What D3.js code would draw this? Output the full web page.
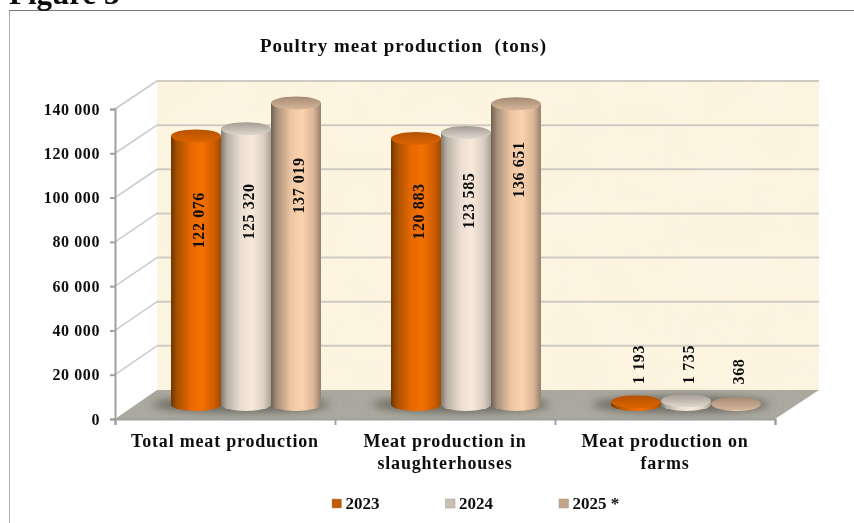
<!DOCTYPE html>
<html><head><meta charset="utf-8">
<script src="https://cdn.jsdelivr.net/npm/d3@7/dist/d3.min.js"></script>
<style>
html,body{margin:0;padding:0;background:#fff;overflow:hidden}
text{font-family:"Liberation Serif",serif;font-weight:bold;fill:#111}
</style></head><body><svg id="c" width="854" height="523"></svg>
<script>
const categories=[["Total meat production"],["Meat production in","slaughterhouses"],["Meat production on","farms"]];
const series=["2023","2024","2025 *"];
const values2023=[122076,120883,1193];
const values2024=[125320,123585,1735];
const values2025=[137019,136651,368];
const labelNudge2023=[9,-1.5,0];
const labelNudge2024=[5.5,-8,0];
const labelNudge2025=[-2,-18.5,7];
const yTicks=[0,20000,40000,60000,80000,100000,120000,140000];
const allValues=[values2023,values2024,values2025];
const nudges=[labelNudge2023,labelNudge2024,labelNudge2025];
const bodyStops=[
 [["0","#6e3404"],["0.12","#a85006"],["0.4","#e66800"],["0.62","#f57000"],["0.85","#d05e00"],["1","#a04c04"]],
 [["0","#7f7a72"],["0.12","#b8b0a6"],["0.4","#ecdfd2"],["0.62","#f6e8da"],["0.85","#dccfc2"],["1","#aaa296"]],
 [["0","#6f5f50"],["0.12","#a8907a"],["0.4","#eec6a4"],["0.62","#fbd2ae"],["0.85","#dcb696"],["1","#94806c"]]];
const capStops=[
 [["0","#b55200"],["1","#dd6400"]],
 [["0","#a39c92"],["1","#e0d8ce"]],
 [["0","#a58a72"],["1","#d6b79c"]]];
const legendFill=["#c25a06","#c9c0b4","#c2a488"];

const svg=d3.select("#c"),defs=svg.append("defs");
const root=svg.append("g").attr("filter","url(#soft)");
defs.append("filter").attr("id","soft").attr("x",0).attr("y",0).attr("width",1).attr("height",1)
  .append("feGaussianBlur").attr("stdDeviation",0.35);
const blur=defs.append("filter").attr("id","shadow").attr("x","-20%").attr("y","-100%").attr("width","140%").attr("height","300%");
blur.append("feGaussianBlur").attr("stdDeviation",4);
function grain(id,freq,tone,amt){
  const f=defs.append("filter").attr("id",id).attr("x",0).attr("y",0).attr("width",1).attr("height",1);
  f.append("feTurbulence").attr("type","fractalNoise").attr("baseFrequency",freq).attr("numOctaves",3).attr("seed",4).attr("result","n");
  f.append("feColorMatrix").attr("in","n").attr("type","matrix")
   .attr("values",`0 0 0 0 ${tone[0]} 0 0 0 0 ${tone[1]} 0 0 0 0 ${tone[2]} ${amt} 0 0 0 ${-amt*0.35}`).attr("result","m");
  f.append("feComposite").attr("in","m").attr("in2","SourceAlpha").attr("operator","in").attr("result","c");
  f.append("feMerge").selectAll("feMergeNode").data(["SourceGraphic","c"]).join("feMergeNode").attr("in",d=>d);
}
grain("wallGrain",0.02,[0.93,0.85,0.68],0.45);grain("floorGrain",0.35,[0.45,0.44,0.4],0.6);
function grad(id,stops,x2,y2){
  const g=defs.append("linearGradient").attr("id",id).attr("x1",0).attr("y1",0).attr("x2",x2).attr("y2",y2);
  g.selectAll("stop").data(stops).join("stop").attr("offset",d=>d[0]).attr("stop-color",d=>d[1]);
}
bodyStops.forEach((s,i)=>grad("body"+i,s,1,0));
capStops.forEach((s,i)=>grad("cap"+i,s,0,1));

const x0=d3.scaleBand().domain(d3.range(categories.length)).range([115,775]);
const xS=d3.scaleBand().domain(d3.range(series.length)).range([-75,75]);
const maxV=140000;
const yFront=d3.scaleLinear().domain([0,maxV]).range([419,109]);
const yBack=d3.scaleLinear().domain([0,maxV]).range([390,81]);
const yBar=d3.scaleLinear().domain([0,maxV]).range([404.5,96.5]);
const depthX=42,midX=depthX/2;
const right=x0.range()[1],left=x0.range()[0];
const rx=xS.bandwidth()/2,ry=6.5;

// frame + heading
root.append("path").attr("d","M9,523V10.5H854").attr("fill","none").attr("stroke","#777").attr("stroke-width",1.2);
root.append("text").text("Figure 3").attr("x",9).attr("y",4).attr("font-size",31);
root.append("text").attr("x",403.5).attr("y",52).attr("text-anchor","middle").attr("font-size",19).attr("letter-spacing",1)
  .style("white-space","pre").text("Poultry meat production  (tons)");

// wall
root.append("rect").attr("x",left+depthX).attr("y",yBack(maxV)).attr("width",right+2-left).attr("height",yBack(0)-yBack(maxV))
  .attr("fill","#fdf5e1").attr("filter","url(#wallGrain)");
// grid
root.append("g").selectAll("line").data(yTicks.slice(1)).join("line")
  .attr("x1",left+depthX).attr("x2",right+depthX+2).attr("y1",d=>yBack(d)).attr("y2",d=>yBack(d))
  .attr("stroke","#cdcbc3").attr("stroke-width",2);
root.append("g").selectAll("line").data(yTicks.slice(1)).join("line")
  .attr("x1",left).attr("x2",left+depthX).attr("y1",d=>yFront(d)).attr("y2",d=>yBack(d))
  .attr("stroke","#cbcbcb").attr("stroke-width",1.6);
// floor
root.append("path").attr("d",`M${left},${yFront(0)}L${right},${yFront(0)}L${right+depthX+2},${yBack(0)}L${left+depthX},${yBack(0)}Z`)
  .attr("fill","#aaa89e").attr("filter","url(#floorGrain)");

// axes
const axisY=d3.axisLeft(yFront).tickValues(yTicks).tickSize(5).tickPadding(10)
  .tickFormat(d=>d3.format(",")(d).replace(/,/g," "));
const gy=root.append("g").attr("transform",`translate(${left},0)`).call(axisY);
const axisX=d3.axisBottom(d3.scaleLinear().domain([0,3]).range([left,right])).tickValues([0,1,2,3]).tickSize(6).tickFormat("");
const gx=root.append("g").attr("transform",`translate(0,${yFront(0)})`).call(axisX);
[gy,gx].forEach(g=>{g.selectAll("path,line").attr("stroke","#a0a0a0").attr("stroke-width",2);});
gy.selectAll("text").attr("font-size",16).attr("letter-spacing",0.6).attr("fill","#111").attr("font-family",null);

// groups
const groups=root.append("g").selectAll("g").data(categories).join("g")
  .attr("transform",(d,i)=>`translate(${x0(i)+x0.bandwidth()/2+midX},0)`);
groups.append("ellipse").attr("cx",-5).attr("cy",yBar(0)).attr("rx",xS.range()[1]+14).attr("ry",8)
  .attr("fill","#55534e").attr("opacity",0.75).attr("filter","url(#shadow)");
groups.each(function(_,gi){
  const g=d3.select(this);
  series.forEach((s,si)=>{
    const v=allValues[si][gi],cx=xS(si)+rx,yt=yBar(v),yb=yBar(0);
    g.append("path").attr("d",`M${cx-rx},${yt}V${yb}A${rx},${ry} 0 0 0 ${cx+rx},${yb}V${yt}Z`).attr("fill",`url(#body${si})`);
    g.append("ellipse").attr("cx",cx).attr("cy",yt).attr("rx",rx).attr("ry",ry).attr("fill",`url(#cap${si})`);
  });
});
groups.each(function(_,gi){
  const g=d3.select(this);
  series.forEach((s,si)=>{
    const v=allValues[si][gi],cx=xS(si)+rx;
    const small=v<maxV/20;
    const yc=small?yBar(0)-40:yBar(v*0.72);
    g.append("text").attr("transform",`translate(${cx+4},${yc+nudges[si][gi]}) rotate(-90)`)
      .attr("text-anchor","middle").attr("dominant-baseline","middle").attr("font-size",16).attr("letter-spacing",0.6)
      .text(d3.format(",")(v).replace(/,/g," "));
  });
});
// category labels
groups.each(function(lines,gi){
  d3.select(this).selectAll("text.cat").data(lines).join("text").attr("class","cat")
    .attr("x",-midX).attr("y",(d,i)=>447+i*21.5).attr("text-anchor","middle").attr("font-size",18).attr("letter-spacing",0.8).text(d=>d);
});
// legend
const legendX=d3.scaleOrdinal().domain(series).range([332,445.5,559]);
const lg=root.append("g").selectAll("g").data(series).join("g").attr("transform",d=>`translate(${legendX(d)},499)`);
lg.append("rect").attr("width",9.5).attr("height",9).attr("fill",(d,i)=>legendFill[i]).attr("stroke","#a89a8a").attr("stroke-width",0.5);
lg.append("text").attr("x",13.5).attr("y",9.5).attr("font-size",17).text(d=>d);
</script></body></html>
